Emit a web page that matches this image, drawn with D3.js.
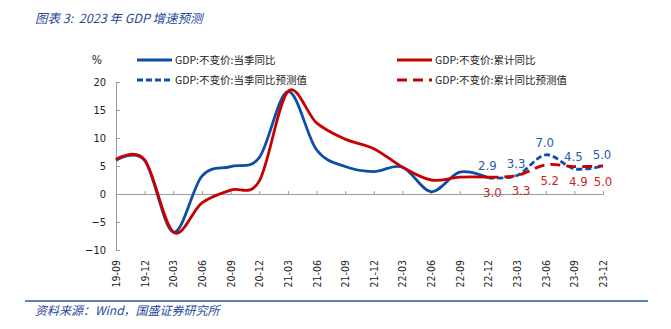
<!DOCTYPE html>
<html><head><meta charset="utf-8">
<script src="https://cdn.jsdelivr.net/npm/d3@7/dist/d3.min.js"></script>
<style>
body{margin:0;background:#fff;}
svg{display:block;}
.num{font-family:"DejaVu Sans",Verdana,sans-serif;font-stretch:condensed;}
</style></head>
<body><svg id="c" width="671" height="329"></svg>
<script>
const categories = ["19-09","19-12","20-03","20-06","20-09","20-12","21-03","21-06","21-09","21-12","22-03","22-06","22-09","22-12","23-03","23-06","23-09","23-12"];
const actualCategories = categories.slice(0, 14);
const quarterlyYoY = [6.0, 6.0, -6.8, 3.2, 4.9, 6.5, 18.3, 7.9, 4.9, 4.0, 4.8, 0.4, 3.9, 2.9];
const cumulativeYoY = [6.2, 6.1, -6.8, -1.6, 0.7, 2.3, 18.3, 12.7, 9.8, 8.1, 4.8, 2.5, 3.0, 3.0];
const forecastCategories = ["22-12","23-03","23-06","23-09","23-12"];
const quarterlyForecast = [2.9, 3.3, 7.0, 4.5, 5.0];
const cumulativeForecast = [3.0, 3.3, 5.2, 4.9, 5.0];
const yTicks = [-10, -5, 0, 5, 10, 15, 20];
const seriesNames = ["GDP:不变价:当季同比", "GDP:不变价:累计同比", "GDP:不变价:当季同比预测值", "GDP:不变价:累计同比预测值"];
const titleText = "图表 3:  2023 年 GDP 增速预测";
const sourceText = "资料来源：Wind，国盛证券研究所";

const BLUE = "#0d4ea6", RED = "#c80000", AXIS = "#9a9a9a";
const svg = d3.select("#c");
const x = d3.scalePoint().domain(categories).range([116, 603]);
const y = d3.scaleLinear().domain([-10, 20]).range([250, 82]);

// title
svg.append("text").attr("x", 35).attr("y", 23)
  .attr("xml:space", "preserve").style("white-space", "pre")
  .attr("font-family", "'Noto Sans CJK SC', 'DejaVu Sans', sans-serif")
  .attr("font-size", 12.5).attr("font-style", "italic").attr("fill", "#27489a")
  .text(titleText);

// y axis
const yAxis = d3.axisLeft(y).tickValues(yTicks).tickSize(-4).tickPadding(10).tickFormat(d3.format("d"));
const gy = svg.append("g").attr("transform", "translate(116,0)").call(yAxis);
gy.select(".domain").attr("stroke", AXIS);
gy.selectAll(".tick line").attr("stroke", AXIS);
gy.selectAll(".tick text").attr("class", "num").attr("font-size", 11).attr("fill", "#222");

svg.append("text").attr("class", "num").attr("x", 97).attr("y", 64).attr("text-anchor", "middle")
  .attr("font-size", 12).attr("fill", "#222").text("%");

// x axis at zero
const xAxis = d3.axisBottom(x).tickSize(-3).tickFormat(() => "");
const gx = svg.append("g").attr("transform", `translate(0,${y(0)})`).call(xAxis);
gx.select(".domain").attr("stroke", AXIS);
gx.selectAll(".tick line").attr("stroke", AXIS);

// x labels rotated
svg.append("g").selectAll("text").data(categories).join("text")
  .attr("class", "num")
  .attr("transform", d => `translate(${x(d) + 4},${260}) rotate(-90)`)
  .attr("text-anchor", "end").attr("font-size", 10.5).attr("fill", "#222")
  .text(d => d);

const line = (cats) => d3.line().x((d, i) => x(cats[i])).y(d => y(d)).curve(d3.curveCardinal.tension(0));

svg.append("path").datum(quarterlyYoY).attr("d", line(actualCategories))
  .attr("fill", "none").attr("stroke", BLUE).attr("stroke-width", 2.8);
svg.append("path").datum(cumulativeYoY).attr("d", line(actualCategories))
  .attr("fill", "none").attr("stroke", RED).attr("stroke-width", 2.8);
svg.append("path").datum(quarterlyForecast).attr("d", line(forecastCategories))
  .attr("fill", "none").attr("stroke", BLUE).attr("stroke-width", 2.8).attr("stroke-dasharray", "6,3");
svg.append("path").datum(cumulativeForecast).attr("d", line(forecastCategories))
  .attr("fill", "none").attr("stroke", RED).attr("stroke-width", 2.8).attr("stroke-dasharray", "10,6");

// data labels
svg.append("g").selectAll("text").data(quarterlyForecast).join("text")
  .attr("class", "num").attr("x", (d, i) => x(forecastCategories[i]) - 1).attr("y", d => y(d) - 12)
  .attr("dy", "0.36em").attr("text-anchor", "middle").attr("font-size", 13).attr("fill", "#1f5bb0")
  .text(d => d.toFixed(1));
svg.append("g").selectAll("text").data(cumulativeForecast).join("text")
  .attr("class", "num").attr("x", (d, i) => x(forecastCategories[i]) + (i < 4 ? 4 : 0)).attr("y", d => y(d) + 15)
  .attr("dy", "0.36em").attr("text-anchor", "middle").attr("font-size", 13).attr("fill", "#cc1f1f")
  .text(d => d.toFixed(1));

// legend
const legend = [
  {x: 137, y: 60, c: BLUE, dash: null, t: seriesNames[0]},
  {x: 137, y: 80, c: BLUE, dash: "6,3", t: seriesNames[2]},
  {x: 397, y: 60, c: RED, dash: null, t: seriesNames[1]},
  {x: 397, y: 80, c: RED, dash: "10,6", t: seriesNames[3]},
];
const lg = svg.append("g").selectAll("g").data(legend).join("g");
lg.append("line").attr("x1", d => d.x).attr("x2", d => d.x + 35).attr("y1", d => d.y).attr("y2", d => d.y)
  .attr("stroke", d => d.c).attr("stroke-width", 2.8).attr("stroke-dasharray", d => d.dash);
lg.append("text").attr("x", d => d.x + 38).attr("y", d => d.y).attr("dy", "0.36em")
  .attr("font-family", "'Noto Sans CJK SC', sans-serif").attr("font-size", 10.5).attr("fill", "#222")
  .text(d => d.t);

// footer
svg.append("line").attr("x1", 25).attr("x2", 648).attr("y1", 301).attr("y2", 301)
  .attr("stroke", "#2a58a8").attr("stroke-width", 1.5);
svg.append("text").attr("x", 35).attr("y", 315)
  .attr("font-family", "'Noto Sans CJK SC', sans-serif")
  .attr("font-size", 12).attr("font-style", "italic").attr("fill", "#27489a")
  .text(sourceText);
</script></body></html>
